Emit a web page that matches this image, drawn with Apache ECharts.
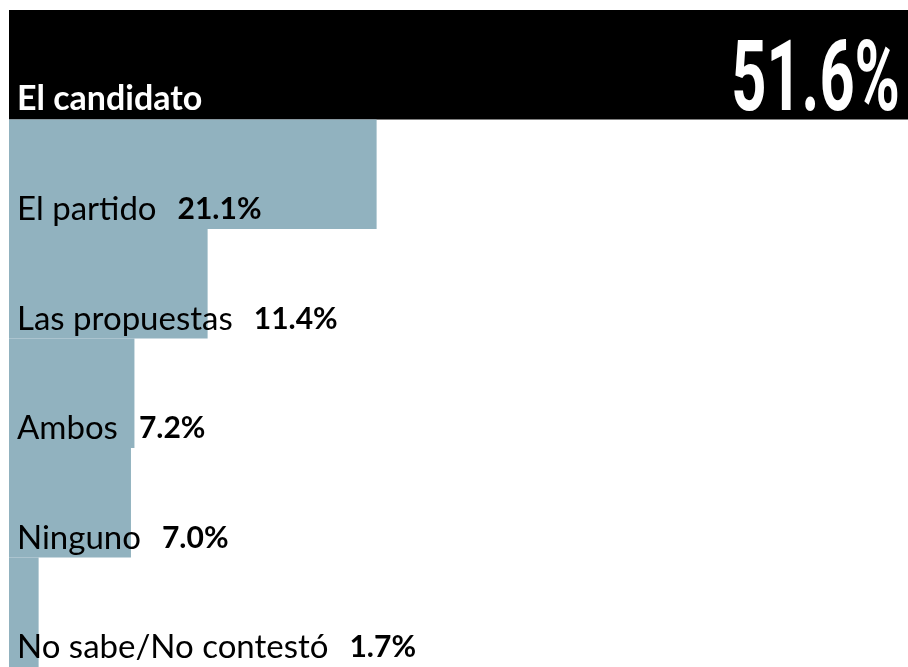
<!DOCTYPE html>
<html>
<head>
<meta charset="utf-8">
<script src="https://cdn.jsdelivr.net/npm/echarts@6/dist/echarts.min.js"></script>
<style>
html,body{margin:0;padding:0;background:#fff;}
#main{width:908px;height:667px;}
</style>
</head>
<body>
<div id="main"></div>
<script>
const categories = ['El candidato', 'El partido', 'Las propuestas', 'Ambos', 'Ninguno', 'No sabe/No contestó'];
const values = [51.6, 21.1, 11.4, 7.2, 7.0, 1.7];
const barColors = ['#000000', '#91b2bf', '#91b2bf', '#91b2bf', '#91b2bf', '#91b2bf'];

const chart = echarts.init(document.getElementById('main'));

const mainData = values.map((v, i) => {
  const item = { value: v, itemStyle: { color: barColors[i] } };
  if (i === 0) {
    item.label = { formatter: (p) => '{h|' + p.name + '}', offset: [0, 5] };
  }
  return item;
});

chart.setOption({
  animation: false,
  grid: { left: 9, right: 0, top: 10, bottom: 0, containLabel: false },
  xAxis: { type: 'value', min: 0, max: values[0], show: false },
  yAxis: { type: 'category', data: categories, inverse: true, show: false },
  series: [
    {
      type: 'bar',
      data: mainData,
      barCategoryGap: 0,
      z: 2,
      label: {
        show: true,
        position: 'insideBottomLeft',
        distance: 8,
        offset: [0, 5],
        formatter: (p) => '{n|' + p.name + '}{v|' + Number(p.value).toFixed(1) + '%}',
        rich: {
          n: { fontFamily: 'Lato', fontSize: 33, color: '#000', fontWeight: 'normal' },
          v: { fontFamily: 'Lato', fontSize: 30, color: '#000', fontWeight: 'bold', padding: [0, 0, 0, 21] },
          h: { fontFamily: 'Lato', fontSize: 34, color: '#fff', fontWeight: 'bold' }
        }
      }
    }
  ]
});

// Big headline value for the leading category, anchored to the bar end via the axis scales
const endPt = chart.convertToPixel({ xAxisIndex: 0, yAxisIndex: 0 }, [values[0], categories[0]]);
chart.setOption({
  graphic: [{
    type: 'text',
    x: endPt[0] - 8,
    y: endPt[1] + 20,
    scaleX: 0.62,
    z: 10,
    style: {
      text: values[0].toFixed(1) + '%',
      fontFamily: 'Roboto',
      fontWeight: 'bold',
      fontSize: 99,
      fill: '#fff',
      align: 'right',
      verticalAlign: 'middle'
    }
  }]
});
</script>
</body>
</html>
